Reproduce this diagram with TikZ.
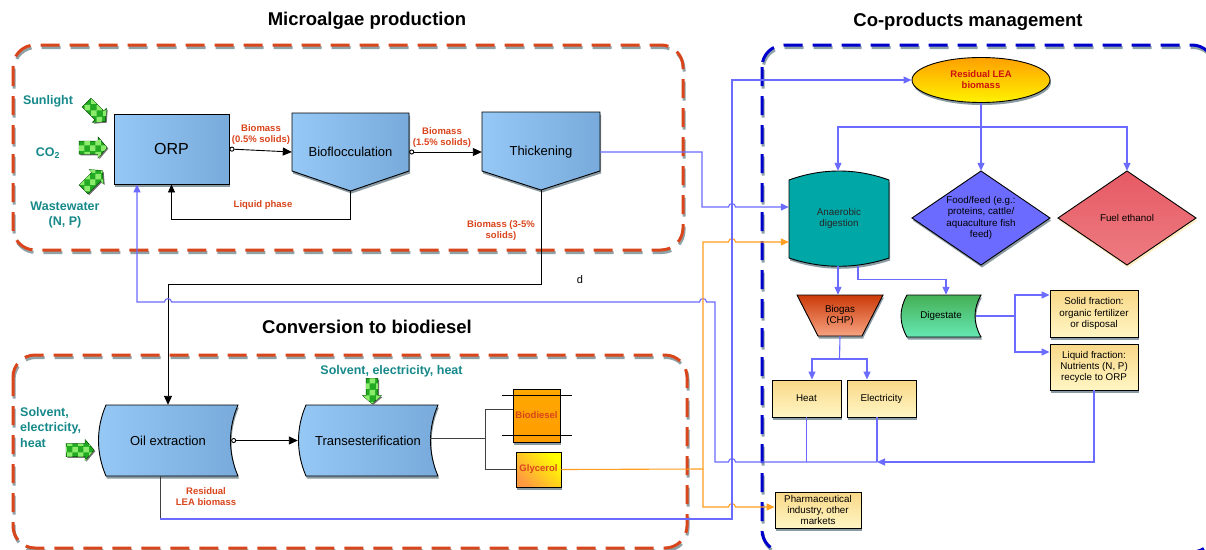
\documentclass[tikz,border=0pt]{standalone}
\usepackage{fontspec}
\setmainfont{Liberation Sans}
\usetikzlibrary{arrows.meta,shapes.geometric,shadows,patterns,calc}

\definecolor{frameRed}{HTML}{D9461C}
\definecolor{frameGray}{HTML}{8FA2A8}
\definecolor{frameBlue}{HTML}{0000CC}
\definecolor{labRed}{HTML}{D9441C}
\definecolor{labTeal}{HTML}{17898A}
\definecolor{flowBlue}{HTML}{6B6BFF}
\definecolor{flowOrange}{HTML}{FF9E1F}
\definecolor{procL}{HTML}{95C8F5}
\definecolor{procR}{HTML}{78ABDB}
\definecolor{shadowGray}{HTML}{8A9AA2}
\definecolor{greenDark}{HTML}{22AA22}
\definecolor{greenLight}{HTML}{8BEB6B}
\definecolor{yelTop}{HTML}{F9D888}
\definecolor{yelBot}{HTML}{FFF6C4}
\definecolor{adTeal}{HTML}{00A7A7}
\definecolor{foodBlue}{HTML}{6B6BFF}
\definecolor{fuelTop}{HTML}{E65A64}
\definecolor{fuelBot}{HTML}{EE7C82}
\definecolor{fuelShadow}{HTML}{FFEFC4}
\definecolor{bgTop}{HTML}{CC3A08}
\definecolor{bgBot}{HTML}{F6A382}
\definecolor{digTop}{HTML}{45B055}
\definecolor{digBot}{HTML}{66E8B4}
\definecolor{leaTop}{HTML}{FFA000}
\definecolor{leaBot}{HTML}{FFF200}
\definecolor{bioOrange}{HTML}{FFA800}
\definecolor{bioOrangeD}{HTML}{FF9C00}
\definecolor{glyOrange}{HTML}{FF9A40}
\definecolor{leaText}{HTML}{CC1010}

\tikzset{
  frame/.style={line width=3pt, dash pattern=on 19pt off 10pt, rounded corners=22pt},
  shad/.style={drop shadow={shadow xshift=1pt, shadow yshift=-2.5pt, fill=shadowGray, opacity=1}},
  proc/.style={draw=black, line width=0.9pt, left color=procL, right color=procR, shad},
  ptext/.style={font=\fontsize{13}{15}\selectfont, inner sep=0pt},
  small/.style={font=\fontsize{9.8}{11.4}\selectfont, align=center, inner sep=0pt},
  ybox/.style={draw=black, line width=0.9pt, top color=yelTop, bottom color=yelBot, shad,
               small, minimum width=#1},
  lab/.style={font=\bfseries\fontsize{9.5}{11}\selectfont, text=labRed, align=center, inner sep=0pt},
  tlab/.style={font=\bfseries\fontsize{12.5}{15.5}\selectfont, text=labTeal, inner sep=0pt},
  ttl/.style={font=\bfseries\fontsize{18.5}{21}\selectfont, inner sep=0pt},
  blk/.style={draw=black, line width=0.9pt},
  gry/.style={draw=black!75, line width=0.9pt},
  bl/.style={draw=flowBlue, line width=1.1pt},
  or/.style={draw=flowOrange, line width=1.1pt},
  btip/.tip={Triangle[length=8pt,width=7pt]},
  garrow/.style={fill=greenDark, draw=black!70!green, line width=0.5pt,
                 drop shadow={shadow xshift=1.3pt, shadow yshift=-1.3pt, fill=black!55, opacity=1},
                 postaction={pattern=checkerboard, pattern color=greenLight}},
  pics/greenarrow/.style={code={
    \path[garrow] (-14,-6.5) -- (5,-6.5) -- (5,-10.5) -- (14,0) -- (5,10.5) -- (5,6.5) -- (-14,6.5) -- cycle;
  }}
}

\begin{document}
\begin{tikzpicture}[x=1pt,y=-1pt]
\useasboundingbox (0,0) rectangle (1206,549);
\fill[white] (0,0) rectangle (1206,549);

% ---------- dashed group frames ----------
\draw[frame, draw=frameGray, shift={(1,2.5)}] (13,45) rectangle (683,250);
\draw[frame, draw=frameRed] (13,45) rectangle (683,250);
\draw[frame, draw=frameGray, shift={(1,2.5)}] (13,355) rectangle (687,548);
\draw[frame, draw=frameRed] (13,355) rectangle (687,548);
\draw[frame, draw=frameGray, shift={(1,2.5)}] (762,45) rectangle (1214,552);
\draw[frame, draw=frameBlue] (762,45) rectangle (1214,552);

\node[ttl] (t1) at (367,21) {Microalgae production};
\node[ttl] (t2) at (968,22) {Co-products management};
\node[ttl] (t3) at (367,327) {Conversion to biodiesel};

% ---------- microalgae production ----------
\node[proc, minimum width=115pt, minimum height=70pt, inner sep=0pt,
      font=\fontsize{16}{18}\selectfont] (orp) at (171.5,149) {ORP};

\path[proc] (292,113) -- (409,113) -- (409,171) -- (350.5,191) -- (292,171) -- cycle;
\node[ptext, minimum width=117pt] (biofl) at (350.5,152) {Bioflocculation};
\coordinate (bioflTip) at (350.5,191);

\path[proc] (482,112) -- (600,112) -- (600,171) -- (541,190) -- (482,171) -- cycle;
\node[ptext, minimum width=118pt] (thick) at (541,152) {Thickening};
\coordinate (thickTip) at (541,190);

\pic[rotate=-45, scale=0.95] at (96,112) {greenarrow};
\pic at (93,147.5) {greenarrow};
\pic[rotate=45, scale=0.95] at (93,180) {greenarrow};

\node[tlab] (sun) at (48,101) {Sunlight};
\node[tlab] (co2) at (48,153) {CO\textsubscript{2}};
\node[tlab, align=center] (ww) at (65,215) {Wastewater\\(N, P)};

\draw[blk, {Circle[open,length=5pt,width=5pt]}-{Triangle[length=9pt,width=8pt]}]
  (orp.east) -- (biofl.west);
\node[lab] (l1) at (261,135) {Biomass\\(0.5\% solids)};
\draw[blk, {Circle[open,length=5pt,width=5pt]}-{Triangle[length=9pt,width=8pt]}]
  (biofl.east) -- (thick.west);
\node[lab] (l2) at (442,137.5) {Biomass\\(1.5\% solids)};

\draw[blk, -{Triangle[length=8pt,width=7pt]}] (bioflTip) -- ++(0,28) -| (orp.south);
\node[lab] (l3) at (263,205) {Liquid phase};
\node[lab] (l4) at (501,231) {Biomass (3-5\%\\solids)};

% ---------- conversion to biodiesel ----------
\path[proc] (106,405) -- (238,405) .. controls (228,428) and (228,453) .. (238,476)
  -- (106,476) .. controls (96,453) and (96,428) .. (106,405) -- cycle;
\node[ptext, minimum width=140pt, minimum height=71pt] (oil) at (168,440.5) {Oil extraction};

\path[proc] (306,405) -- (438,405) .. controls (428,428) and (428,453) .. (438,476)
  -- (306,476) .. controls (296,453) and (296,428) .. (306,405) -- cycle;
\node[ptext, minimum width=140pt, minimum height=71pt] (trans) at (368,440.5) {Transesterification};

\node[draw=black, line width=0.9pt, top color=bioOrange, bottom color=bioOrangeD, shad,
      minimum width=47pt, minimum height=53pt, inner sep=0pt,
      font=\bfseries\fontsize{9.5}{11}\selectfont, text=labRed] (bio) at (536.5,415.5) {Biodiesel};
\draw[black, line width=0.9pt] ($(bio.north west)+(-11,7)$) -- ($(bio.north east)+(12,7)$);
\draw[black, line width=0.9pt] ($(bio.south west)+(-11,-7)$) -- ($(bio.south east)+(12,-7)$);

\node[draw=black, line width=0.9pt, shading=axis, top color=yellow, bottom color=glyOrange,
      shading angle=-45, shad,
      minimum width=45pt, minimum height=35pt, inner sep=0pt,
      font=\bfseries\fontsize{9.5}{11}\selectfont, text=labRed] (glyc) at (538.5,469.5) {Glycerol};

\pic at (80,450) {greenarrow};
\pic[rotate=-90, scale=0.9] at (372,391) {greenarrow};
\node[tlab, align=left, anchor=west] (solv1) at (20,427.5) {Solvent,\\electricity,\\heat};
\node[tlab] (solv2) at (391.5,371) {Solvent, electricity, heat};

\draw[blk, -{Triangle[length=9pt,width=8pt]}] (thickTip) -- ++(0,94) -| (oil.north);
\node[font=\fontsize{11}{13}\selectfont, inner sep=0pt] (d) at (580,280) {d};

\draw[blk, {Circle[open,length=5pt,width=5pt]}-{Triangle[length=9pt,width=8pt]}]
  ([xshift=-7pt]oil.east) -- (trans.west);

\coordinate (split) at (485,438);
\draw[gry] ([xshift=-8pt,yshift=2.5pt]trans.east) -- (split);
\draw[gry] (split) |- ([yshift=6.5pt]bio.west);
\draw[gry] (split) |- (glyc.west);

\node[lab] (l5) at (206,497) {Residual\\LEA biomass};

% ---------- co-products management ----------
\node[draw=black, line width=0.9pt, ellipse, minimum width=138pt, minimum height=45pt, inner sep=0pt,
      top color=leaTop, bottom color=leaBot, shad, align=center,
      font=\bfseries\fontsize{9.5}{11}\selectfont, text=leaText] (lea) at (981,80) {Residual LEA\\biomass};

\path[draw=black, line width=0.9pt, fill=adTeal, shad]
  (789,180) .. controls (822,168) and (856,168) .. (889,180) -- (889,258)
  .. controls (856,269) and (822,269) .. (789,258) -- cycle;
\node[small, minimum width=100pt, minimum height=95pt, text=black!85] (ad) at (839,218.5) {Anaerobic\\digestion};

\path[draw=black, line width=0.9pt, fill=foodBlue, shad]
  (981,171) -- (1050,218) -- (981,265) -- (912,218) -- cycle;
\node[small, minimum width=138pt, minimum height=94pt] (food) at (981,218)
  {Food/feed (e.g.:\\proteins, cattle/\\aquaculture fish\\feed)};

\path[draw=black, line width=0.9pt, top color=fuelTop, bottom color=fuelBot,
      drop shadow={shadow xshift=1pt, shadow yshift=-2.5pt, fill=fuelShadow, opacity=1}]
  (1127,171) -- (1196,218) -- (1127,265) -- (1058,218) -- cycle;
\node[small, minimum width=138pt, minimum height=94pt] (fuel) at (1127,218) {Fuel ethanol};

\path[draw=black, line width=0.9pt, top color=bgTop, bottom color=bgBot, shad]
  (797,295) -- (883,295) -- (862,336) -- (818,336) -- cycle;
\node[small, minimum width=86pt, minimum height=41pt] (biogas) at (840,315.5) {Biogas\\(CHP)};

\path[draw=black, line width=0.9pt, top color=digTop, bottom color=digBot, shad]
  (907,295) -- (981,295) .. controls (973,309) and (973,323) .. (981,337)
  -- (907,337) .. controls (899,323) and (899,309) .. (907,295) -- cycle;
\node[small, minimum width=80pt, minimum height=42pt] (dig) at (941,316) {Digestate};

\node[ybox=69pt, minimum height=37pt] (heat) at (806.5,398.5) {Heat};
\node[ybox=69pt, minimum height=37pt] (elec) at (881.5,398.5) {Electricity};
\node[ybox=88pt, minimum height=47pt] (solid) at (1094,313.5) {Solid fraction:\\organic fertilizer\\or disposal};
\node[ybox=88pt, minimum height=46pt] (liquid) at (1094,367) {Liquid fraction:\\Nutrients (N, P)\\recycle to ORP};
\node[ybox=86pt, minimum height=36pt] (pharm) at (818,510) {Pharmaceutical\\industry, other\\markets};

% LEA biomass distribution
\coordinate (leaJ) at (981,127);
\draw[bl] (lea.south) -- (leaJ);
\draw[bl, -btip] (leaJ) -| ([xshift=-1pt]ad.north);
\draw[bl, -btip] (leaJ) -- (food.north);
\draw[bl, -btip] (leaJ) -| (fuel.north);

% digestion products
\draw[bl, -btip] ([xshift=-1pt]ad.south) -- ([xshift=-1pt]ad.south |- biogas.north);
\draw[bl, -btip] ([xshift=19pt]ad.south) -- ++(0,13) -| ([xshift=5pt]dig.north);

\coordinate (bgJ) at (839.5,359);
\draw[bl] (biogas.south) -- (bgJ);
\draw[bl, -btip] (bgJ) -| ([xshift=5.5pt]heat.north);
\draw[bl, -btip] (bgJ) -| ([xshift=-14.5pt]elec.north);

\coordinate (dgJ) at (1015,316);
\draw[bl] ([xshift=-5pt]dig.east) -- (dgJ);
\draw[bl, -btip] (dgJ) |- ([yshift=18.5pt]solid.west);
\draw[bl, -btip] (dgJ) |- ([yshift=15pt]liquid.west);

% nutrient and energy recycle back to ORP
\coordinate (recJ) at (877,462);
\draw[bl, -btip] (liquid.south) |- (recJ);
\draw[bl] ([xshift=-4.5pt]elec.south) -- (recJ);
\draw[bl] (heat.south) -- (heat.south |- recJ);
\draw[bl, -btip] (recJ) -- (735.5,462) .. controls (735.5,457.5) and (728.5,457.5) .. (728.5,462)
  -- (715,462) -- (715,302)
  -- (706.5,302) .. controls (706.5,297.5) and (699.5,297.5) .. (699.5,302)
  -- (171.5,302) .. controls (171.5,297.5) and (164.5,297.5) .. (164.5,302)
  -- (137,302) -- ([xshift=-34.5pt]orp.south);

% thickening overflow to digestion
\draw[bl, -btip] (thick.east) -- (702,152) -- (702,207)
  -- (728.5,207) .. controls (728.5,202.5) and (735.5,202.5) .. (735.5,207)
  -- ([yshift=11.5pt]ad.west);

% glycerol routes
\coordinate (oJ) at (703,469);
\draw[or] (glyc.east) -- (oJ);
\draw[or, -{Triangle[length=8pt,width=7pt]}] (oJ) -- (703,242)
  -- (728.5,242) .. controls (728.5,237.5) and (735.5,237.5) .. (735.5,242)
  -- ([yshift=-23.5pt]ad.west);
\draw[or, -{Triangle[length=8pt,width=7pt]}] (oJ) -- (703,507)
  -- (728.5,507) .. controls (728.5,502.5) and (735.5,502.5) .. (735.5,507)
  -- ([yshift=3pt]pharm.west);

% residual LEA biomass route
\coordinate (leaC) at (160,519);
\draw[gry] ([xshift=-8pt]oil.south) -- (leaC);
\draw[bl, -btip] (leaC) -- (732,519) -- (732,80) -- (lea.west);

\end{tikzpicture}
\end{document}
